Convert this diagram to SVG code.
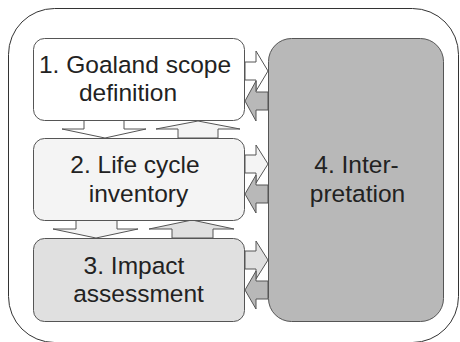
<svg xmlns="http://www.w3.org/2000/svg" width="460" height="342" viewBox="0 0 460 342">
<style>
.box{stroke:#555;stroke-width:1}
.arr{stroke:#555;stroke-width:1;stroke-linejoin:miter}
.t{font-family:"Liberation Sans",Arial,sans-serif;font-size:24.5px;fill:#222;text-anchor:middle}
</style>
<rect x="8.5" y="8.5" width="450" height="334" rx="46" ry="46" fill="#fff" stroke="#333" stroke-width="1"/>
<g id="connectors">
  <polygon class="arr" fill="#fff" points="84,120 84,129 62,129 105,138 146,129 124,129 124,120"/>
  <polygon class="arr" fill="#f4f4f4" points="178,138 178,129 156,129 198,121 240,129 218,129 218,138"/>
  <polygon class="arr" fill="#f4f4f4" points="76,220 76,229 53,229 96,238 138,229 117,229 117,220"/>
  <polygon class="arr" fill="#e0e0e0" points="172,238 172,229 149,229 192,220 234,229 213,229 213,238"/>
  <polygon class="arr" fill="#fff" points="245,62 256,62 256,51 268,71 256,91 256,80 245,80"/>
  <polygon class="arr" fill="#b8b8b8" points="268,92 256,92 256,81 245,101 256,121 256,110 268,110"/>
  <polygon class="arr" fill="#f4f4f4" points="245,155 256,155 256,145 268,164 256,183 256,173 245,173"/>
  <polygon class="arr" fill="#b8b8b8" points="268,185 256,185 256,175 245,194 256,213 256,203 268,203"/>
  <polygon class="arr" fill="#e0e0e0" points="245,251 256,251 256,241 268,260 256,279 256,269 245,269"/>
  <polygon class="arr" fill="#b8b8b8" points="268,281 256,281 256,271 245,290 256,309 256,299 268,299"/>
</g>
<g id="n1">
  <rect class="box" x="33.5" y="38.5" width="211" height="82" rx="11" fill="#fff"/>
  <text class="t" x="135" y="73">1. Goaland scope</text>
  <text class="t" x="128" y="101">definition</text>
</g>
<g id="n2">
  <rect class="box" x="33.5" y="138.5" width="211" height="82" rx="11" fill="#f4f4f4"/>
  <text class="t" x="135" y="173">2. Life cycle</text>
  <text class="t" x="138.5" y="202">inventory</text>
</g>
<g id="n3">
  <rect class="box" x="33.5" y="238.5" width="211" height="83" rx="11" fill="#e0e0e0"/>
  <text class="t" x="134" y="274">3. Impact</text>
  <text class="t" x="138.5" y="302">assessment</text>
</g>
<g id="n4">
  <rect class="box" x="268.5" y="38.5" width="175" height="283" rx="23" fill="#b8b8b8"/>
  <text class="t" x="356.5" y="173">4. Inter-</text>
  <text class="t" x="357.5" y="202">pretation</text>
</g>
</svg>
